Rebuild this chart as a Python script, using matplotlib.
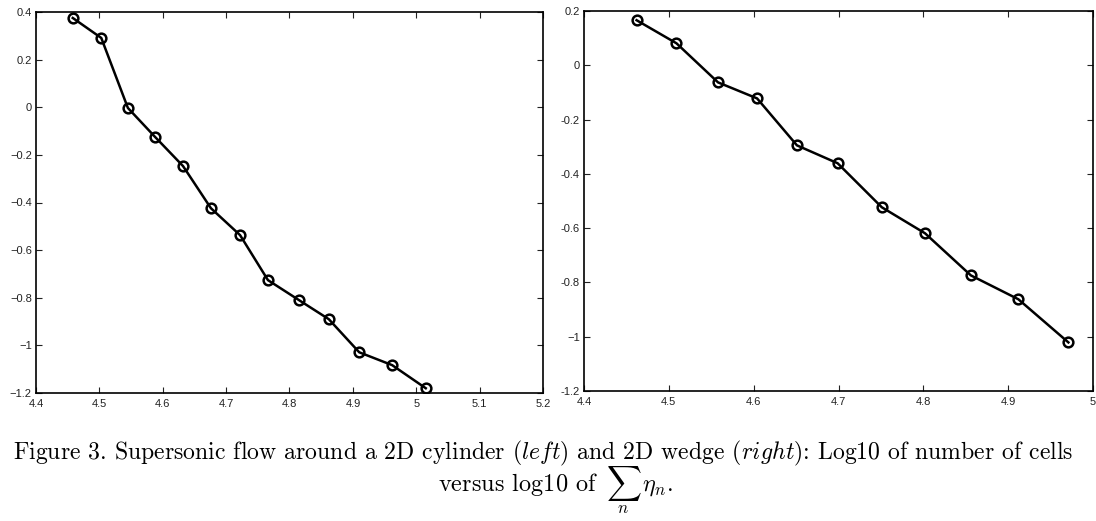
import numpy as np
import matplotlib
matplotlib.use('Agg')
import matplotlib.pyplot as plt

plt.rcParams['font.family'] = ['Liberation Sans', 'DejaVu Sans']
plt.rcParams['mathtext.fontset'] = 'cm'

# cylinder (left)
left_x = [4.458, 4.503, 4.545, 4.588, 4.632, 4.676, 4.722, 4.766, 4.815, 4.862, 4.910, 4.962, 5.015]
left_y = [0.375, 0.291, -0.003, -0.125, -0.247, -0.424, -0.537, -0.726, -0.810, -0.890, -1.029, -1.083, -1.180]
left_xticks = [4.4, 4.5, 4.6, 4.7, 4.8, 4.9, 5.0, 5.1, 5.2]
left_xlabels = ['4.4', '4.5', '4.6', '4.7', '4.8', '4.9', '5', '5.1', '5.2']
left_yticks = [0.4, 0.2, 0.0, -0.2, -0.4, -0.6, -0.8, -1.0, -1.2]
left_ylabels = ['0.4', '0.2', '0', '\u22120.2', '\u22120.4', '\u22120.6', '\u22120.8', '\u22121', '\u22121.2']

# wedge (right)
right_x = [4.462, 4.509, 4.558, 4.604, 4.651, 4.699, 4.751, 4.802, 4.856, 4.912, 4.971]
right_y = [0.166, 0.081, -0.063, -0.122, -0.295, -0.361, -0.523, -0.619, -0.774, -0.862, -1.021]
right_xticks = [4.4, 4.5, 4.6, 4.7, 4.8, 4.9, 5.0]
right_xlabels = ['4.4', '4.5', '4.6', '4.7', '4.8', '4.9', '5']
right_yticks = [0.2, 0.0, -0.2, -0.4, -0.6, -0.8, -1.0, -1.2]
right_ylabels = ['0.2', '0', '-0.2', '-0.4', '-0.6', '-0.8', '\u22121', '-1.2']

W, H = 1096, 521
fig = plt.figure(figsize=(W/100, H/100), dpi=100)
fig.patch.set_facecolor('white')

def panel(rect, x, y, xt, xl, yt, yl, xlim, ylim):
    ax = fig.add_axes(rect)
    ax.plot(x, y, '-', color='black', lw=1.8, marker='o', ms=7,
            mfc='none', mec='black', mew=1.8)
    ax.set_xlim(*xlim)
    ax.set_ylim(*ylim)
    ax.set_xticks(xt)
    ax.set_xticklabels(xl)
    ax.set_yticks(yt)
    ax.set_yticklabels(yl)
    ax.tick_params(direction='in', top=True, right=True, length=4, width=0.8,
                   labelsize=8, colors='#222222')
    ax.tick_params(axis='x', pad=4)
    ax.tick_params(axis='y', pad=3)
    for s in ax.spines.values():
        s.set_linewidth(1.2)
    return ax

panel([36/W, 1-393/H, 507/W, 381/H], left_x, left_y, left_xticks, left_xlabels,
      left_yticks, left_ylabels, (4.4, 5.2), (-1.2, 0.4))
panel([584/W, 1-391/H, 509/W, 380/H], right_x, right_y, right_xticks, right_xlabels,
      right_yticks, right_ylabels, (4.4, 5.0), (-1.2, 0.2))

line1 = (r'Figure 3. Supersonic flow around a 2D cylinder $\mathit{(left)}$'
         r' and 2D wedge $\mathit{(right)}$: Log10 of number of cells')
fig.text(13/W, 1-459/H, line1, fontsize=17.1, family='cmr10', ha='left', va='baseline')
line2 = r'versus log10 of $\,\sum_{n}\,\eta_n$.'
fig.text(555/W, 1-492/H, line2, fontsize=17.5, family='cmr10', ha='center', va='baseline')

fig.savefig('out.png', dpi=100)
